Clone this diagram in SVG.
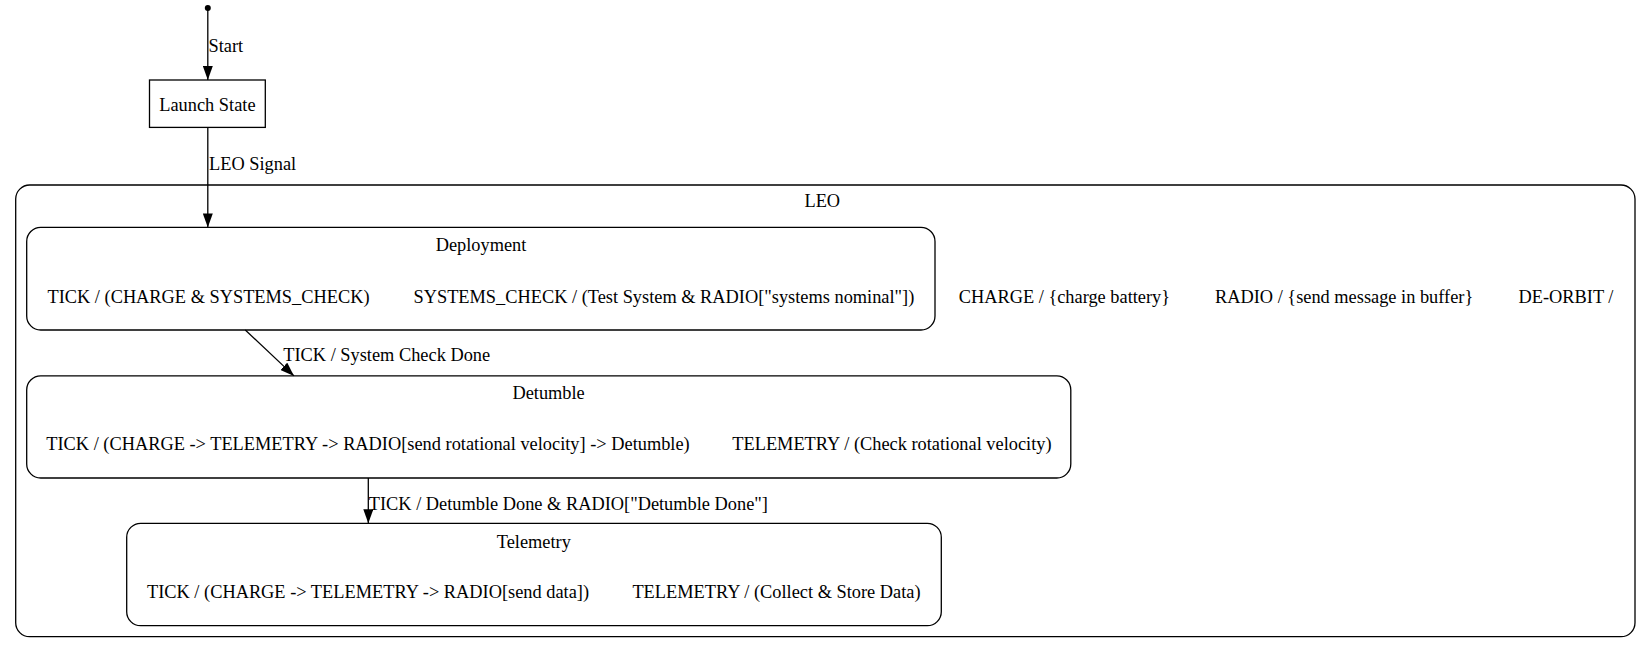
<svg xmlns="http://www.w3.org/2000/svg" width="1651" height="653" viewBox="0 0 1651 653">
<defs>
<style>
text{font-family:"Liberation Serif","Times New Roman",serif;font-size:18.35px;fill:#000}
.c{text-anchor:middle}
.box{fill:none;stroke:#000;stroke-width:1.3}
.edge{fill:none;stroke:#000;stroke-width:1.3}
</style>
<marker id="arr" markerWidth="14" markerHeight="10" refX="14" refY="5" orient="auto" markerUnits="userSpaceOnUse" viewBox="0 0 14 10">
<path d="M0,0 L14,5 L0,10 Z" fill="#000"/>
</marker>
</defs>
<rect width="1651" height="653" fill="#fff"/>
<g id="LEO">
<rect class="box" x="15.7" y="185" width="1619.3" height="451.7" rx="14" ry="14"/>
<text class="c" x="822.3" y="207">LEO</text>
<text class="c" x="1064.4" y="302.5">CHARGE / {charge battery}</text>
<text class="c" x="1344.1" y="302.5">RADIO / {send message in buffer}</text>
<text class="c" x="1566" y="302.5">DE-ORBIT /</text>
</g>
<g id="start">
<circle cx="207.8" cy="8" r="3" fill="#000"/>
</g>
<g id="launch">
<rect class="box" x="149.5" y="80" width="115.8" height="47.4"/>
<text class="c" x="207.4" y="110.5">Launch State</text>
</g>
<g id="deployment">
<rect class="box" x="26.7" y="227.4" width="908.3" height="102.6" rx="14" ry="14"/>
<text class="c" x="481" y="251">Deployment</text>
<text class="c" x="208.5" y="302.5">TICK / (CHARGE &amp; SYSTEMS_CHECK)</text>
<text class="c" x="663.9" y="302.5">SYSTEMS_CHECK / (Test System &amp; RADIO["systems nominal"])</text>
</g>
<g id="detumble">
<rect class="box" x="26.7" y="375.9" width="1044.1" height="102.1" rx="14" ry="14"/>
<text class="c" x="548.6" y="399">Detumble</text>
<text class="c" x="368" y="449.5">TICK / (CHARGE -&gt; TELEMETRY -&gt; RADIO[send rotational velocity] -&gt; Detumble)</text>
<text class="c" x="891.9" y="449.5">TELEMETRY / (Check rotational velocity)</text>
</g>
<g id="telemetry">
<rect class="box" x="126.7" y="523.3" width="814.6" height="102.4" rx="14" ry="14"/>
<text class="c" x="533.8" y="547.5">Telemetry</text>
<text class="c" x="368" y="598">TICK / (CHARGE -&gt; TELEMETRY -&gt; RADIO[send data])</text>
<text class="c" x="776.5" y="598">TELEMETRY / (Collect &amp; Store Data)</text>
</g>
<g id="connectors">
<path class="edge" d="M207.8,8 L207.8,80" marker-end="url(#arr)"/>
<text x="208.5" y="51.5">Start</text>
<path class="edge" d="M207.8,127.4 L207.8,227.4" marker-end="url(#arr)"/>
<text x="209" y="169.5">LEO Signal</text>
<path class="edge" d="M245.3,330 L294,375.9" marker-end="url(#arr)"/>
<text x="283.3" y="361">TICK / System Check Done</text>
<path class="edge" d="M368.3,478 L368.3,523.3" marker-end="url(#arr)"/>
<text x="368.8" y="509.5">TICK / Detumble Done &amp; RADIO["Detumble Done"]</text>
</g>
</svg>
